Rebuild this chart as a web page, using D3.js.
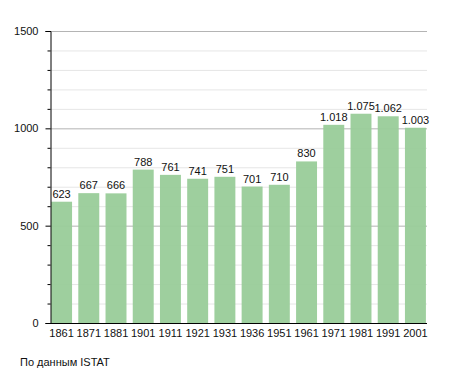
<!DOCTYPE html>
<html>
<head>
<meta charset="utf-8">
<script src="https://cdn.jsdelivr.net/npm/d3@7"></script>
<style>
  body { margin: 0; background: #fff; }
  text { font-family: "Liberation Sans", Arial, sans-serif; }
</style>
</head>
<body>
<script>
// population by census year
var years = ["1861", "1871", "1881", "1901", "1911", "1921", "1931", "1936", "1951", "1961", "1971", "1981", "1991", "2001"];
var population = [623, 667, 666, 788, 761, 741, 751, 701, 710, 830, 1018, 1075, 1062, 1003];
var majorTicks = [0, 500, 1000, 1500];
var minorTicks = [100, 200, 300, 400, 600, 700, 800, 900, 1100, 1200, 1300, 1400];
var sourceText = "По данным  ISTAT";

var width = 455, height = 373;
var plotLeft = 50, plotRight = 427, plotTop = 31, plotBottom = 323;

var svg = d3.select("body").append("svg")
    .attr("width", width)
    .attr("height", height);

var x = d3.scaleBand()
    .domain(years)
    .range([plotLeft, plotRight])
    .paddingInner(0.23)
    .paddingOuter(0.04);

var y = d3.scaleLinear()
    .domain([0, 1500])
    .range([plotBottom, plotTop]);

function fmt(v) {
    var s = String(v);
    if (v >= 1000) s = s.slice(0, s.length - 3) + "." + s.slice(-3);
    return s;
}

// grid
svg.append("g").selectAll("line.minor")
    .data(minorTicks)
    .enter().append("line")
    .attr("x1", plotLeft).attr("x2", plotRight)
    .attr("y1", function(d) { return y(d) + 0.5; })
    .attr("y2", function(d) { return y(d) + 0.5; })
    .attr("stroke", "#e6e6e6");

svg.append("g").selectAll("line.major")
    .data(majorTicks.slice(1))
    .enter().append("line")
    .attr("x1", plotLeft).attr("x2", plotRight)
    .attr("y1", function(d) { return y(d) + 0.5; })
    .attr("y2", function(d) { return y(d) + 0.5; })
    .attr("stroke", "#b4b4b4");

// bars
svg.append("g").selectAll("rect")
    .data(population)
    .enter().append("rect")
    .attr("x", function(d, i) { return x(years[i]); })
    .attr("width", x.bandwidth())
    .attr("y", function(d) { return y(d); })
    .attr("height", function(d) { return y(0) - y(d); })
    .attr("fill", "#99cc99")
    .attr("fill-opacity", 0.95);

// value labels
svg.append("g").selectAll("text")
    .data(population)
    .enter().append("text")
    .attr("x", function(d, i) { return x(years[i]) + x.bandwidth() / 2; })
    .attr("y", function(d) { return y(d) - 4; })
    .attr("text-anchor", "middle")
    .attr("font-size", "11px")
    .attr("fill", "#111")
    .text(fmt);

// y axis
var yAxis = d3.axisLeft(y).tickValues(majorTicks).tickSize(5).tickFormat(d3.format("d"));
var gy = svg.append("g")
    .attr("transform", "translate(" + (plotLeft + 0.5) + ",0)")
    .call(yAxis);
gy.select(".domain").attr("stroke", "#000");
gy.selectAll(".tick line").attr("stroke", "#000");
gy.selectAll(".tick text")
    .attr("x", -12)
    .attr("font-size", "11px")
    .attr("font-family", "Liberation Sans, Arial, sans-serif")
    .attr("fill", "#111");

gy.selectAll("line.minor")
    .data(minorTicks)
    .enter().append("line")
    .attr("class", "minor")
    .attr("x1", -3).attr("x2", 0)
    .attr("y1", function(d) { return y(d) + 0.5; })
    .attr("y2", function(d) { return y(d) + 0.5; })
    .attr("stroke", "#000");

// x axis
var xAxis = d3.axisBottom(x).tickSize(0).tickPadding(6);
var gx = svg.append("g")
    .attr("transform", "translate(0," + (plotBottom + 0.5) + ")")
    .call(xAxis);
gx.select(".domain").attr("stroke", "#000").attr("d", "M" + plotLeft + ",0H" + plotRight);
gx.selectAll(".tick text")
    .attr("font-size", "11px")
    .attr("font-family", "Liberation Sans, Arial, sans-serif")
    .attr("fill", "#111");

// source
svg.append("text")
    .attr("x", 20)
    .attr("y", 366)
    .attr("font-size", "11px")
    .attr("fill", "#111")
    .text(sourceText);
</script>
</body>
</html>
